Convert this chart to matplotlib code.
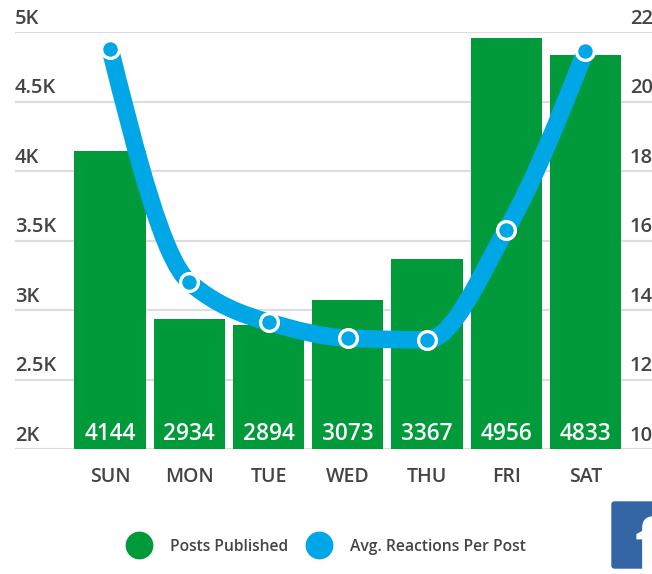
import numpy as np
import matplotlib
matplotlib.use('Agg')
import matplotlib.pyplot as plt
from matplotlib.lines import Line2D
from matplotlib.patches import FancyBboxPatch, PathPatch
from matplotlib.path import Path

days = ['SUN', 'MON', 'TUE', 'WED', 'THU', 'FRI', 'SAT']
posts = [4144, 2934, 2894, 3073, 3367, 4956, 4833]
reactions = [21.52, 14.8, 13.65, 13.19, 13.14, 16.3, 21.45]
left_ticks = [2000, 2500, 3000, 3500, 4000, 4500, 5000]
left_labels = ['2K', '2.5K', '3K', '3.5K', '4K', '4.5K', '5K']
right_ticks = [10, 12, 14, 16, 18, 20, 22]

GREEN = '#009a3a'
BLUE = '#00a7e7'
GRID = '#dddddd'
TEXT = '#444444'
W, H = 652, 574

plt.rcParams['font.family'] = ['Open Sans', 'Noto Sans', 'DejaVu Sans']


def px_x(x):
    return x / W


def px_y(y):
    return 1 - y / H


def monotone_path(xs, ys):
    # same idea as a monotone-x curve, one bezier per pair of days
    xs = np.asarray(xs, dtype=float)
    ys = np.asarray(ys, dtype=float)
    sec = np.diff(ys) / np.diff(xs)
    tan = np.zeros(len(ys))
    for i in range(1, len(ys) - 1):
        if sec[i - 1] * sec[i] > 0:
            tan[i] = 2 * sec[i - 1] * sec[i] / (sec[i - 1] + sec[i])
    tan[0] = (3 * sec[0] - tan[1]) / 2
    tan[-1] = (3 * sec[-1] - tan[-2]) / 2
    verts = [(xs[0], ys[0])]
    codes = [Path.MOVETO]
    for i in range(len(xs) - 1):
        d = (xs[i + 1] - xs[i]) / 3
        verts += [(xs[i] + d, ys[i] + tan[i] * d),
                  (xs[i + 1] - d, ys[i + 1] - tan[i + 1] * d),
                  (xs[i + 1], ys[i + 1])]
        codes += [Path.CURVE4] * 3
    return Path(verts, codes)


fig = plt.figure(figsize=(W / 100, H / 100), dpi=100)
ax = fig.add_axes([px_x(15), px_y(449), px_x(637), (449 - 32) / H])
ax2 = ax.twinx()

x = np.arange(len(days))
ax.bar(x, posts, width=0.9, color=GREEN, zorder=2)
for i, v in enumerate(posts):
    ax.text(i, 2068, str(v), color='white', fontsize=16.3, fontweight=600, ha='center', va='baseline', zorder=3)

ax.set_xlim(-1.2, 6.84)
ax.set_ylim(2000, 5000)
ax2.set_ylim(10, 22)
ax.set_yticks(left_ticks)
ax.set_yticklabels([])
ax2.set_yticks(right_ticks)
ax2.set_yticklabels([])
ax.set_xticks(x)
ax.set_xticklabels(days, fontsize=14, color=TEXT, fontweight=600)
ax.tick_params(axis='x', length=0, pad=13)
ax.tick_params(axis='y', length=0)
ax2.tick_params(axis='y', length=0)
ax.grid(axis='y', color=GRID, linewidth=1.6, zorder=1)
ax.set_axisbelow(True)
for a in (ax, ax2):
    for s in a.spines.values():
        s.set_visible(False)

# axis labels sit on top of the gridlines, so place them by hand
for tick, lab in zip(left_ticks, left_labels):
    ax.annotate(lab, (0, tick), xycoords=ax.get_yaxis_transform(), xytext=(0, 2.5),
                textcoords='offset points', color=TEXT, fontsize=14.5, fontweight=600, ha='left', va='bottom')
for tick in right_ticks:
    ax2.annotate(str(tick), (1, tick), xycoords=ax2.get_yaxis_transform(), xytext=(-16, 2.5),
                 textcoords='offset points', color=TEXT, fontsize=14.5, fontweight=600, ha='left', va='bottom',
                 annotation_clip=False)

ax2.add_patch(PathPatch(monotone_path(x, reactions), fill=False, edgecolor=BLUE,
                        linewidth=12.6, capstyle='butt', clip_on=False))
ax2.plot(x, reactions, 'o', color=BLUE, markersize=12.8, markeredgecolor='white',
         markeredgewidth=2.4, clip_on=False)

# legend
fig.add_artist(Line2D([px_x(139)], [px_y(545)], marker='o', color=GREEN, markersize=20, markeredgewidth=0))
fig.add_artist(Line2D([px_x(319)], [px_y(545)], marker='o', color=BLUE, markersize=20, markeredgewidth=0))
fig.text(px_x(170), px_y(545), 'Posts Published', color=TEXT, fontsize=11.25, fontweight=600, va='center_baseline')
fig.text(px_x(350), px_y(545), 'Avg. Reactions Per Post', color=TEXT, fontsize=11.3, fontweight=600, va='center_baseline')

# facebook badge, cut off by the right edge
fig.add_artist(FancyBboxPatch((px_x(612), px_y(568)), px_x(60), 66 / H,
                              boxstyle='round,pad=0,rounding_size=0.004',
                              facecolor='#3465a4', edgecolor='#3465a4', linewidth=1,
                              transform=fig.transFigure))
fig.text(px_x(635), px_y(569), 'f', color='white', fontsize=50, fontweight='bold', va='baseline')

fig.savefig('out.png', dpi=100)
